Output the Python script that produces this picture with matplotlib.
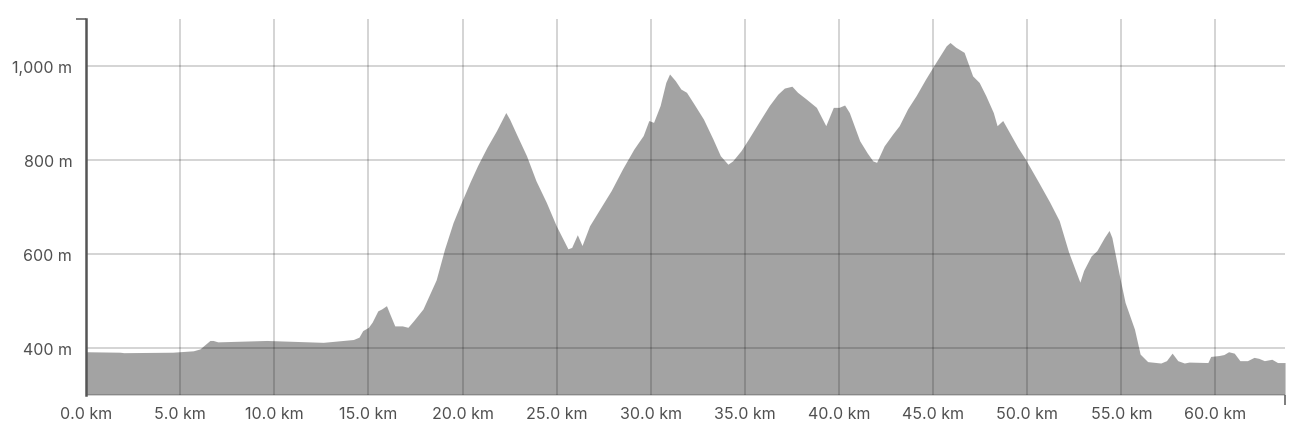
import matplotlib.pyplot as plt
from matplotlib.ticker import FuncFormatter

# distance along the route (km) and elevation (m)
distance_km = [0.0, 1.8, 2.0, 4.6, 5.7, 6.05, 6.58, 6.75, 7.0, 9.6, 12.6, 14.2, 14.5,
               14.7, 15.0, 15.2, 15.5, 15.7, 15.96, 16.1, 16.4, 16.8, 17.1, 17.4, 17.9,
               18.6, 19.05, 19.5, 19.94, 20.4, 20.8, 21.3, 21.8, 22.3, 22.5, 22.9, 23.4,
               23.9, 24.45, 24.98, 25.6, 25.8, 26.1, 26.35, 26.75, 27.3, 27.9, 28.5,
               29.1, 29.6, 29.9, 30.15, 30.5, 30.8, 31.0, 31.3, 31.6, 31.9, 32.3, 32.8,
               33.3, 33.7, 34.1, 34.35, 34.8, 35.2, 35.8, 36.3, 36.75, 37.1, 37.5, 37.8,
               38.25, 38.8, 39.3, 39.7, 40.0, 40.3, 40.55, 41.1, 41.5, 41.8, 42.0, 42.4,
               42.85, 43.2, 43.65, 44.1, 44.6, 45.15, 45.7, 45.9, 46.2, 46.65, 47.1,
               47.45, 47.8, 48.2, 48.4, 48.7, 49.05, 49.5, 49.9, 50.6, 51.2, 51.7, 52.2,
               52.8, 53.0, 53.4, 53.7, 54.1, 54.35, 54.5, 54.9, 55.2, 55.7, 56.0, 56.4,
               57.1, 57.4, 57.7, 58.0, 58.35, 58.6, 59.6, 59.75, 60.2, 60.45, 60.7, 61.0,
               61.3, 61.7, 62.05, 62.3, 62.6, 63.0, 63.3, 63.7]
elevation_m = [392, 391, 390, 391, 394, 398, 416, 416, 413, 416, 412, 418, 423,
               437, 444, 455, 479, 483, 490, 476, 447, 447, 444, 458, 483,
               545, 611, 667, 710, 753, 788, 827, 862, 901, 887, 852, 809,
               756, 710, 660, 611, 614, 641, 618, 660, 696, 735, 781,
               823, 852, 884, 880, 916, 965, 983, 969, 951, 944, 919, 887,
               845, 809, 791, 798, 820, 845, 884, 916, 940, 953, 957, 944,
               930, 912, 873, 912, 912, 917, 901, 841, 815, 798, 795, 830,
               855, 873, 909, 937, 972, 1008, 1043, 1050, 1040, 1029, 979,
               965, 937, 901, 873, 884, 859, 827, 802, 753, 710, 671, 604,
               540, 565, 596, 607, 635, 650, 635, 554, 497, 440, 387, 371,
               368, 373, 389, 373, 368, 370, 369, 382, 384, 386, 392, 389,
               373, 373, 380, 378, 373, 376, 369, 369]

x_ticks = [0, 5, 10, 15, 20, 25, 30, 35, 40, 45, 50, 55, 60]
y_ticks = [300, 400, 600, 800, 1000]
x_max = 63.7
y_min, y_max = 300, 1100

plt.rcParams['font.family'] = ['Inter', 'DejaVu Sans']

fig = plt.figure(figsize=(13, 4.35), dpi=100)
ax = fig.add_axes([0.0662, 0.0897, 0.9223, 0.8643])

ax.fill_between(distance_km, elevation_m, y_min, color='#a3a3a3', linewidth=0)

ax.set_xlim(0, x_max)
ax.set_ylim(y_min, y_max)
ax.set_xticks(x_ticks)
ax.set_yticks(y_ticks)
ax.xaxis.set_major_formatter(FuncFormatter(lambda v, p: f'{v:.1f} km'))
ax.yaxis.set_major_formatter(FuncFormatter(lambda v, p: '' if v == y_min else f'{int(v):,} m'))

# outer ticks at the axis ends
ax.set_xticks([0, x_max], minor=True)
ax.set_yticks([y_min, y_max], minor=True)
ax.tick_params(which='major', length=0, labelsize=11.5, colors='#505050')
ax.tick_params(axis='y', which='major', pad=10)
ax.tick_params(axis='x', which='major', pad=8)
ax.tick_params(which='minor', length=7, width=1.2, color='#666666')

ax.grid(True, color='black', alpha=0.18, linewidth=1.3)

for side in ['top', 'right', 'bottom']:
    ax.spines[side].set_visible(False)
ax.spines['left'].set_color('#555555')
ax.spines['left'].set_linewidth(1.8)

fig.savefig('out.png', dpi=100)
